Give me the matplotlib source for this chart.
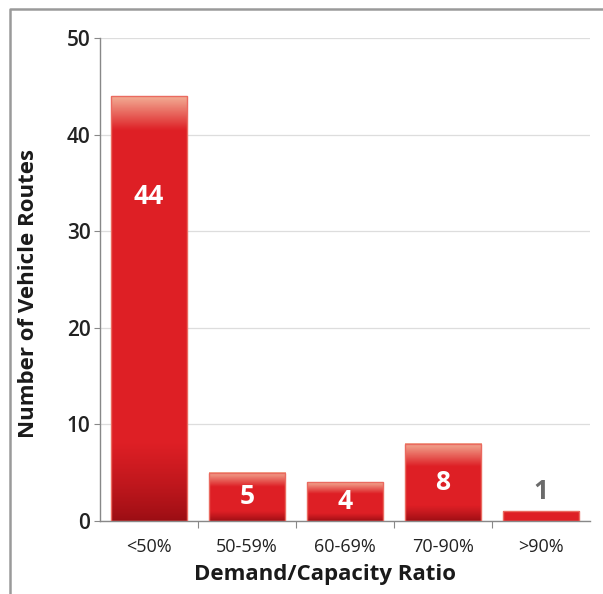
import numpy as np
import matplotlib.pyplot as plt
from matplotlib.colors import LinearSegmentedColormap
from matplotlib.lines import Line2D

categories = ['<50%', '50-59%', '60-69%', '70-90%', '>90%']
routes = [44, 5, 4, 8, 1]
yticks = [0, 10, 20, 30, 40, 50]

plt.rcParams['font.family'] = ['Open Sans', 'DejaVu Sans']

fig = plt.figure(figsize=(6.03, 5.94), dpi=100)
ax = fig.add_axes([0.166, 0.123, 0.812, 0.813])

# frame: top and left edges only
fig.add_artist(Line2D([0.017, 0.017, 1.0], [0.0, 0.985, 0.985], transform=fig.transFigure,
                      color='#9a9a9a', linewidth=1.8))

x = np.arange(len(categories))
bars = ax.bar(x, routes, width=0.78, color='none', edgecolor='#ea6a60', linewidth=1.0, zorder=3)

# red gradient: light top, red body, dark bottom
cmap = LinearSegmentedColormap.from_list('redbar', [
    (0.0, '#8e0a10'), (0.5, '#de1f25'), (1.0, '#f2ab93')])
for b, v in zip(bars, routes):
    x0, w, h = b.get_x(), b.get_width(), b.get_height()
    n = 300
    yy = np.linspace(0, h, n)
    hi = min(3.5, 0.3 * h)
    lo = min(8.0, 0.2 * h)
    vals = np.full(n, 0.5)
    top = yy > h - hi
    vals[top] = 0.5 + 0.5 * ((yy[top] - (h - hi)) / hi)
    bot = yy < lo
    vals[bot] = 0.08 + 0.42 * (yy[bot] / lo) ** 0.8
    if h < 2:
        vals[:] = 0.5
    ax.imshow(vals[::-1].reshape(-1, 1), cmap=cmap, vmin=0, vmax=1, aspect='auto',
              extent=(x0, x0 + w, 0, h), zorder=2, interpolation='bilinear')

for xi, v in zip(x, routes):
    if v < 2:
        ax.text(xi, v + 2, str(v), ha='center', va='center', color='#6b6b6b',
                fontsize=19, fontweight='bold', zorder=4)
    elif v < 10:
        ax.text(xi, v / 2, str(v), ha='center', va='center', color='white',
                fontsize=19, fontweight='bold', zorder=4)
    else:
        ax.text(xi, v - 10.4, str(v), ha='center', va='center', color='white',
                fontsize=19, fontweight='bold', zorder=4)

ax.set_xlim(-0.5, len(categories) - 0.5)
ax.set_ylim(0, 50)
ax.set_yticks(yticks)
ax.set_yticklabels([str(t) for t in yticks], fontsize=15, fontweight='semibold', color='#222222')
ax.set_xticks(x[:-1] + 0.5)
ax.set_xticklabels([])
ax.set_xticks(x, minor=True)
ax.set_xticklabels(categories, minor=True, fontsize=13, color='#222222')
ax.tick_params(axis='x', which='major', length=5, color='#888888')
ax.tick_params(axis='x', which='minor', length=0, pad=12)
ax.tick_params(axis='y', length=4, color='#888888', pad=3)
ax.grid(axis='y', color='#dddddd', linewidth=0.9, zorder=0)
ax.set_axisbelow(True)

for s in ['top', 'right']:
    ax.spines[s].set_visible(False)
for s in ['left', 'bottom']:
    ax.spines[s].set_color('#888888')
    ax.spines[s].set_linewidth(1.0)

ax.set_xlabel('Demand/Capacity Ratio', fontsize=16, fontweight='bold', color='#1a1a1a')
ax.set_ylabel('Number of Vehicle Routes', fontsize=16, fontweight='bold', color='#1a1a1a')
ax.xaxis.set_label_coords(0.459, -0.09)
ax.yaxis.set_label_coords(-0.125, 0.47)

fig.savefig('out.png', dpi=100)
